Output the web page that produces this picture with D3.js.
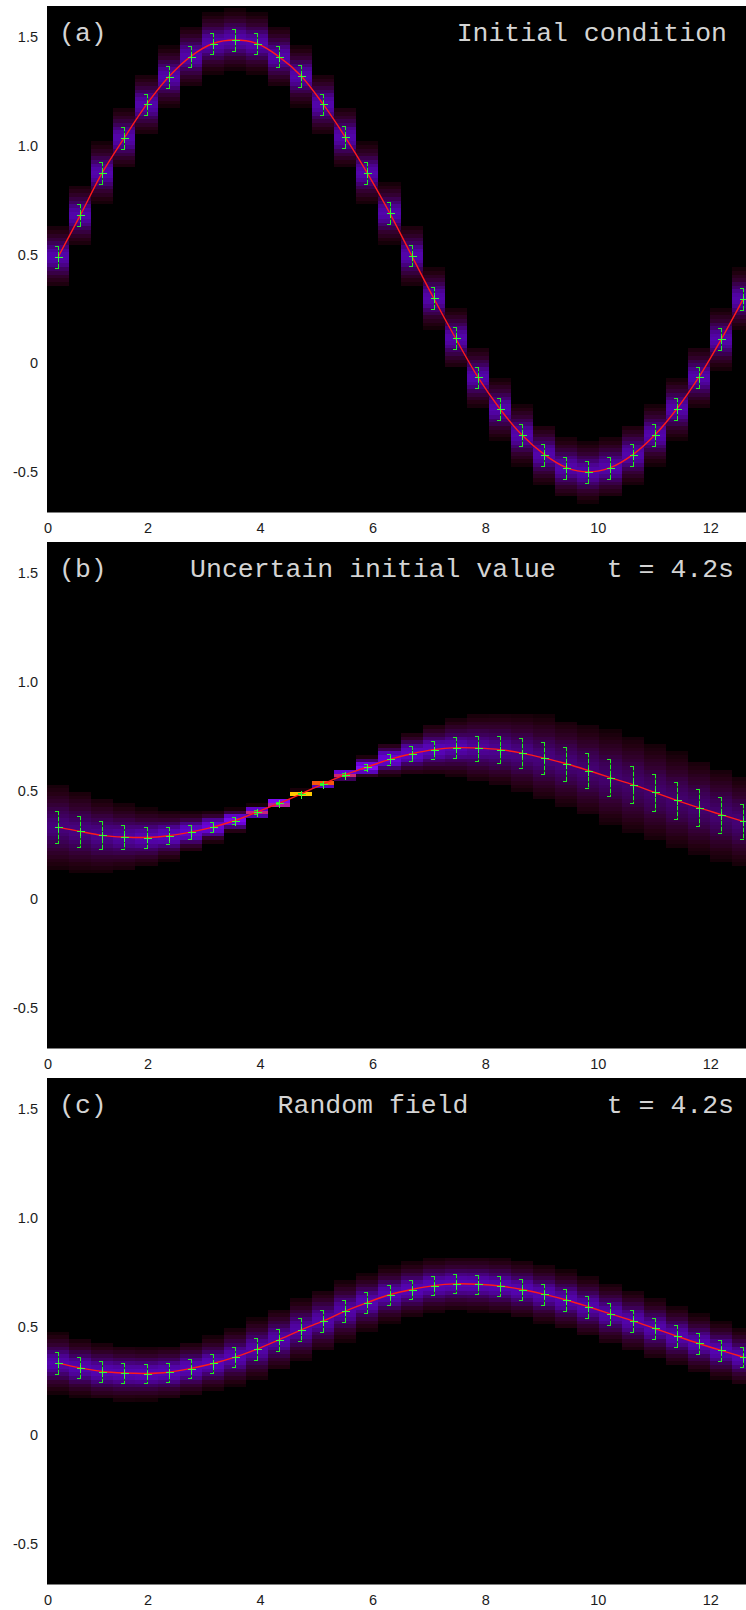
<!DOCTYPE html>
<html>
<head>
<meta charset="utf-8">
<script src="https://cdn.jsdelivr.net/npm/d3@7"></script>
<style>
  body { margin: 0; background: #fff; }
  .tick-label { font-family: "Liberation Sans", Arial, sans-serif; font-size: 14.5px; fill: #1c1c1c; }
  .title { font-family: "Liberation Mono", "Courier New", monospace; font-size: 26.5px; fill: #d4d4d4; }
</style>
</head>
<body>
<svg id="chart"></svg>
<script>
const WIDTH = 746
const HEIGHT = 1610

// cell centres along x (32 cells over 0..4pi)
const xCells = [0.20, 0.59, 0.98, 1.37, 1.77, 2.16, 2.55, 2.95, 3.34, 3.73, 4.12, 4.52, 4.91, 5.30, 5.69, 6.09,
  6.48, 6.87, 7.26, 7.66, 8.05, 8.44, 8.84, 9.23, 9.62, 10.01, 10.41, 10.80, 11.19, 11.58, 11.98, 12.37]
const cellWidth = 0.3927

const meanA = [0.49, 0.68, 0.875, 1.035, 1.19, 1.316, 1.41, 1.47, 1.486, 1.47, 1.41, 1.32, 1.19, 1.04, 0.875, 0.69,
  0.495, 0.30, 0.115, -0.065, -0.21, -0.33, -0.42, -0.48, -0.50, -0.48, -0.42, -0.33, -0.21, -0.065, 0.11, 0.295]
const sdA = [0.05, 0.05, 0.05, 0.05, 0.05, 0.05, 0.05, 0.05, 0.05, 0.05, 0.05, 0.05, 0.05, 0.05, 0.05, 0.05,
  0.05, 0.05, 0.05, 0.05, 0.05, 0.05, 0.05, 0.05, 0.05, 0.05, 0.05, 0.05, 0.05, 0.05, 0.05, 0.05]

const meanB = [0.332, 0.312, 0.294, 0.286, 0.284, 0.292, 0.309, 0.332, 0.362, 0.401, 0.441, 0.485, 0.531, 0.573, 0.608, 0.643,
  0.669, 0.688, 0.697, 0.695, 0.688, 0.672, 0.649, 0.623, 0.592, 0.559, 0.527, 0.491, 0.455, 0.421, 0.389, 0.358]
const sdB = [0.075, 0.071, 0.064, 0.056, 0.048, 0.040, 0.031, 0.024, 0.017, 0.009, 0.004, 0.003, 0.004, 0.008, 0.015, 0.025,
  0.034, 0.041, 0.048, 0.057, 0.062, 0.068, 0.074, 0.077, 0.081, 0.084, 0.086, 0.086, 0.085, 0.084, 0.082, 0.079]

const meanC = [0.332, 0.310, 0.293, 0.286, 0.284, 0.290, 0.307, 0.330, 0.359, 0.396, 0.439, 0.485, 0.526, 0.571, 0.610, 0.646,
  0.670, 0.688, 0.696, 0.694, 0.686, 0.670, 0.648, 0.622, 0.591, 0.558, 0.526, 0.491, 0.456, 0.422, 0.390, 0.360]
const sdC = [0.050, 0.048, 0.047, 0.046, 0.044, 0.044, 0.044, 0.044, 0.047, 0.051, 0.051, 0.052, 0.051, 0.051, 0.047, 0.046,
  0.045, 0.044, 0.044, 0.045, 0.046, 0.047, 0.048, 0.049, 0.050, 0.050, 0.050, 0.050, 0.049, 0.048, 0.047, 0.046]

const tags = ['(a)', '(b)', '(c)']
const centerTitles = ['', 'Uncertain initial value', 'Random field']
const rightTitles = ['Initial condition', 't = 4.2s', 't = 4.2s']

const xTicks = [0, 2, 4, 6, 8, 10, 12]
const yTicks = [-0.5, 0, 0.5, 1.0, 1.5]
const yTickLabels = ['-0.5', '0', '0.5', '1.0', '1.5']

// layout
const PANEL_LEFT = 47
const PANEL_TOP = 6
const PANEL_H = 506.5
const PANEL_STEP = 536
const BIN = 0.017

const heat = d3.scaleLinear()
  .domain([-2.5, -2.0, -1.5, -1.15, -0.85, -0.5, -0.33, -0.2, -0.1, -0.04, 0])
  .range(['#140007', '#240012', '#32002e', '#3e005e', '#5404b0', '#6e02e0', '#8a10ff', '#c0208c', '#ee3a18', '#ff8000', '#ffd000'])
  .clamp(true)

const svg = d3.select('#chart')
  .attr('width', WIDTH)
  .attr('height', HEIGHT)

const x = d3.scaleLinear()
  .domain([0, 4 * Math.PI])
  .range([PANEL_LEFT, PANEL_LEFT + 32 * 22.1])

// column edges: halfway between neighbouring cell centres
const edges = xCells.map((c, i) => i === 0 ? c - cellWidth / 2 : (xCells[i - 1] + c) / 2)
  .concat([xCells[xCells.length - 1] + cellWidth / 2])

render(0, meanA, sdA)
render(1, meanB, sdB)
render(2, meanC, sdC)

function render(k, means, sds) {
  const top = PANEL_TOP + k * PANEL_STEP
  const bottom = top + PANEL_H
  const y = d3.scaleLinear()
    .domain([-0.686, 1.6425])
    .range([bottom, top])

  const g = svg.append('g')
  const clipId = 'clip' + k
  g.append('clipPath').attr('id', clipId)
    .append('rect')
    .attr('x', PANEL_LEFT).attr('y', top)
    .attr('width', WIDTH - PANEL_LEFT).attr('height', PANEL_H)

  g.append('rect')
    .attr('x', PANEL_LEFT).attr('y', top)
    .attr('width', WIDTH - PANEL_LEFT).attr('height', PANEL_H)
    .attr('fill', '#000')

  const plot = g.append('g').attr('clip-path', `url(#${clipId})`)

  // density columns
  const left = i => Math.round(x(edges[i]))
  const right = i => Math.round(x(edges[i + 1]))
  const cols = plot.selectAll('.col')
    .data(means.map((m, i) => ({ i, m, s: sds[i] })))
    .enter()
    .append('g')
    .attr('class', 'col')

  cols.selectAll('rect')
    .data(d => columnBins(d.m, d.s).map(b => Object.assign(b, { i: d.i })))
    .enter()
    .append('rect')
    .attr('x', b => left(b.i))
    .attr('width', b => right(b.i) - left(b.i))
    .attr('y', b => Math.round(y(b.hi)))
    .attr('height', b => Math.round(y(b.lo)) - Math.round(y(b.hi)))
    .attr('fill', b => heat(Math.log10(b.mass)))
    .attr('shape-rendering', 'crispEdges')

  const line = d3.line()
    .x((d, i) => x(xCells[i]))
    .y(d => y(d))
    .curve(d3.curveCatmullRom.alpha(0.5))

  plot.append('path')
    .attr('d', line(means))
    .attr('fill', 'none')
    .attr('stroke', '#ff1a1a')
    .attr('stroke-width', 1.4)

  // error bars
  const bars = plot.selectAll('.bar')
    .data(means.map((m, i) => ({ i, m, s: sds[i] })))
    .enter()
    .append('g')
    .attr('class', 'bar')
    .attr('shape-rendering', 'crispEdges')

  const cx = d => Math.round(x(xCells[d.i])) + 0.5
  bars.append('line')
    .attr('x1', cx).attr('x2', cx)
    .attr('y1', d => y(d.m + d.s)).attr('y2', d => y(d.m - d.s))
    .attr('stroke', '#0b800b')
  bars.append('line')
    .attr('x1', cx).attr('x2', cx)
    .attr('y1', d => y(d.m + d.s)).attr('y2', d => y(d.m - d.s))
    .attr('stroke', '#22f022')
    .attr('stroke-dasharray', '4 2')
  bars.append('path')
    .attr('d', d => {
      const c = cx(d)
      const t = Math.round(y(d.m + d.s)) + 0.5
      const b = Math.round(y(d.m - d.s)) + 0.5
      return `M${c - 4},${t}H${c}M${c - 4},${b}H${c}`
    })
    .attr('stroke', '#22f022')
    .attr('fill', 'none')
  bars.append('path')
    .attr('d', d => {
      const c = cx(d)
      const ym = Math.round(y(d.m)) + 0.5
      return `M${c - 4},${ym}H${c + 4}M${c},${ym - 4}V${ym + 4}`
    })
    .attr('stroke', '#33ff33')
    .attr('fill', 'none')

  // titles
  g.append('text').attr('class', 'title')
    .attr('x', 59).attr('y', top + 35)
    .text(tags[k])
  g.append('text').attr('class', 'title')
    .attr('x', 373).attr('y', top + 35)
    .attr('text-anchor', 'middle')
    .text(centerTitles[k])
  g.append('text').attr('class', 'title')
    .attr('x', k === 0 ? 727 : 734).attr('y', top + 35)
    .attr('text-anchor', 'end')
    .text(rightTitles[k])

  // axes labels
  g.selectAll('.ylab')
    .data(yTicks)
    .enter()
    .append('text')
    .attr('class', 'tick-label')
    .attr('text-anchor', 'end')
    .attr('x', 38)
    .attr('y', d => y(d))
    .attr('dy', '0.36em')
    .text((d, i) => yTickLabels[i])

  // tick labels sit ~11px left of their data position, "0" kept inside the frame
  g.selectAll('.xlab')
    .data(xTicks)
    .enter()
    .append('text')
    .attr('class', 'tick-label')
    .attr('text-anchor', 'middle')
    .attr('x', d => Math.max(x(d) - 11.5, 48))
    .attr('y', bottom + 20.5)
    .text(d => d)
}

function columnBins(m, s) {
  const k0 = Math.floor((m - 4 * s) / BIN) - 1
  const k1 = Math.ceil((m + 4 * s) / BIN) + 1
  return d3.range(k0, k1)
    .map(k => ({ lo: k * BIN, hi: (k + 1) * BIN, mass: phi(((k + 1) * BIN - m) / s) - phi((k * BIN - m) / s) }))
    .filter(b => b.mass > 0.003)
}

function phi(z) {
  const a = Math.abs(z) / Math.SQRT2
  const t = 1 / (1 + 0.3275911 * a)
  const erf = 1 - (((((1.061405429 * t - 1.453152027) * t) + 1.421413741) * t - 0.284496736) * t + 0.254829592) * t * Math.exp(-a * a)
  return z >= 0 ? 0.5 * (1 + erf) : 0.5 * (1 - erf)
}
</script>
</body>
</html>
